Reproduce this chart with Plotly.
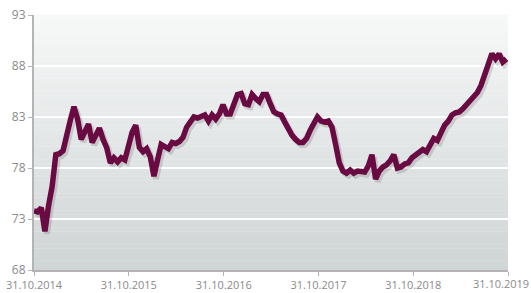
import pandas as pd
import plotly.graph_objects as go

# Biweekly readings, 31.10.2014 -> 31.10.2019
start_date = "2014-10-31"
values = [
    73.8, 73.7, 74.1, 71.8, 74.3, 76.2, 79.3, 79.4, 79.7, 81.5,
    82.7, 84.0, 82.8, 80.8, 81.5, 82.3, 80.5, 81.2, 81.9, 80.8,
    80.0, 78.5, 79.0, 78.6, 79.0, 78.8, 80.0, 81.5, 82.2, 80.0,
    79.6, 79.9, 79.1, 77.2, 78.8, 80.3, 80.1, 79.9, 80.5, 80.4,
    80.6, 81.0, 82.0, 82.5, 83.0, 82.9, 83.0, 83.2, 82.6, 83.2,
    82.8, 83.3, 84.2, 83.3, 83.3, 84.2, 85.2, 85.3, 84.3, 84.2,
    85.2, 84.8, 84.5, 85.2, 85.2, 84.3, 83.5, 83.3, 83.2, 82.5,
    81.7, 81.2, 80.8, 80.5, 80.5, 80.9, 81.7, 82.3, 83.0, 82.6,
    82.5, 82.6, 82.0, 80.3, 78.5, 77.7, 77.5, 77.8, 77.5, 77.7,
    77.7, 77.6, 78.2, 79.3, 76.9, 77.7, 78.1, 78.3, 78.7, 79.3,
    78.0, 78.1, 78.4, 78.5, 79.0, 79.3, 79.5, 79.8, 79.6, 80.2,
    80.9, 80.7, 81.6, 82.2, 82.6, 83.2, 83.4, 83.5, 83.8, 84.2,
    84.5, 85.1, 85.4, 86.1, 87.2, 88.4, 89.2, 88.7, 89.2, 88.4,
    88.7,
]
dates = pd.date_range(start_date, periods=len(values), freq="14D")

tick_dates = ["2014-10-31", "2015-10-31", "2016-10-31", "2017-10-31", "2018-10-31", "2019-10-31"]
tick_labels = ["31.10.2014", "31.10.2015", "31.10.2016", "31.10.2017", "31.10.2018", "31.10.2019"]
y_ticks = [68, 73, 78, 83, 88, 93]

LINE = "#6a0a42"
GREY = "#8a8a8a"

fig = go.Figure()

# soft drop shadow
fig.add_trace(go.Scatter(
    x=dates + pd.Timedelta(days=8), y=[v - 0.25 for v in values],
    mode="lines", line=dict(color="rgba(60,60,60,0.18)", width=6),
    hoverinfo="skip", showlegend=False))
fig.add_trace(go.Scatter(
    x=dates, y=values, mode="lines",
    line=dict(color=LINE, width=5.5), showlegend=False))

# vertical gradient background in plot area
top = (247, 248, 248)
bot = (207, 212, 213)
n = 60
shapes = []
for k in range(n):
    t = (k + 0.5) / n
    c = tuple(round(top[j] + (bot[j] - top[j]) * t) for j in range(3))
    shapes.append(dict(
        type="rect", xref="x domain", yref="y domain",
        x0=0, x1=1, y0=1 - (k + 1) / n, y1=1 - k / n + 0.001,
        fillcolor="rgb(%d,%d,%d)" % c, line=dict(width=0), layer="below"))

# last tick label would be dropped for overflowing the figure edge; draw it as text
shown_labels = tick_labels[:-1] + [""]
annotations = [dict(
    text=tick_labels[-1], xref="paper", yref="paper", x=1.0, y=0,
    xanchor="right", yanchor="top", yshift=-5, xshift=22, showarrow=False,
    borderpad=0, font=dict(size=11, color=GREY))]

fig.update_layout(
    width=531, height=293,
    margin=dict(l=34, r=23, t=15, b=23, autoexpand=False),
    paper_bgcolor="white", plot_bgcolor="white",
    shapes=shapes, annotations=annotations,
    font=dict(family="Open Sans, sans-serif", size=11, color=GREY),
    xaxis=dict(
        type="date", range=[tick_dates[0], tick_dates[-1]],
        tickvals=tick_dates, ticktext=shown_labels, automargin=False,
        showgrid=False, showline=True, linecolor="#b4b4b4", linewidth=2,
        ticks="outside", ticklen=4, tickcolor="#b4b4b4", tickwidth=1,
        tickfont=dict(size=11, color=GREY), zeroline=False),
    yaxis=dict(
        range=[68, 93], tickvals=y_ticks, automargin=False,
        showgrid=True, gridcolor="white", gridwidth=2,
        showline=True, linecolor="#b4b4b4", linewidth=2,
        ticks="outside", ticklen=4, tickcolor="#b4b4b4", tickwidth=1,
        tickfont=dict(size=12, color=GREY), zeroline=False),
)

fig.write_html("out.html", config={"displayModeBar": False},
               post_script="document.body.style.margin='0';")
